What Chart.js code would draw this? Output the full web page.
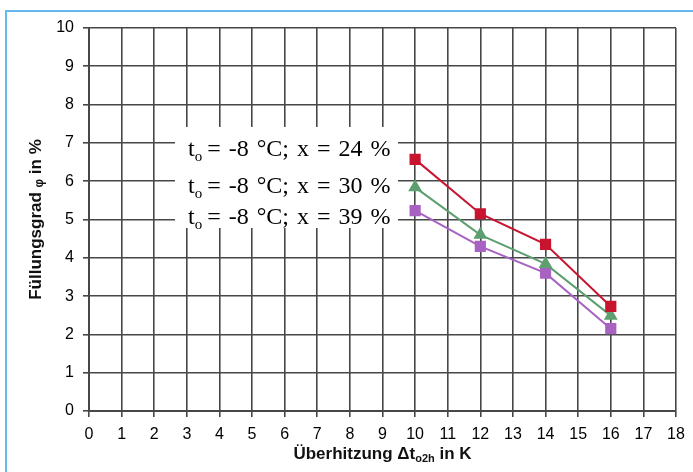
<!DOCTYPE html>
<html><head><meta charset="utf-8">
<script src="https://cdn.jsdelivr.net/npm/chart.js@4.4.0/dist/chart.umd.min.js"></script>
<style>
html,body{margin:0;padding:0;background:#fff;}
#wrap{position:relative;width:693px;height:472px;overflow:hidden;background:#fff;}
#frame{position:absolute;left:5px;top:10px;width:800px;height:600px;border-left:2px solid #66b9ec;border-top:2px solid #66b9ec;}
canvas{position:absolute;left:0;top:0;}
</style></head><body>
<div id="wrap"><div id="frame"></div><canvas id="c" width="693" height="472"></canvas></div>
<script>
// ---- data ----
const xValues = [10, 12, 14, 16];
const seriesX24 = [6.57, 5.15, 4.35, 2.73];
const seriesX30 = [5.84, 4.60, 3.84, 2.49];
const seriesX39 = [5.23, 4.30, 3.60, 2.15];
const seriesLabels = ['= -8 °C; x = 24 %', '= -8 °C; x = 30 %', '= -8 °C; x = 39 %'];
const xTitleParts = ['Überhitzung Δt', 'o2h', ' in K'];
const yTitleParts = ['Füllungsgrad ', 'φ', ' in %'];

const pts = arr => arr.map((v, i) => ({x: xValues[i], y: v}));
const gridColor = '#474747';
const tickFont = {family: 'Liberation Sans, Arial, sans-serif', size: 16};

const annotPlugin = {
  id: 'annot',
  afterDatasetsDraw(chart) {
    const ctx = chart.ctx;
    ctx.save();
    // white label box over grid
    ctx.fillStyle = '#fff';
    ctx.fillRect(175, 127, 223, 101);
    const baselines = [156, 193, 224];
    ctx.fillStyle = '#000';
    const serif = s => s + 'px "Liberation Serif", "Times New Roman", serif';
    seriesLabels.forEach((t, i) => {
      let x = 188;
      const y = baselines[i];
      ctx.textBaseline = 'alphabetic';
      ctx.textAlign = 'left';
      ctx.font = serif(24);
      ctx.fillText('t', x, y);
      x += ctx.measureText('t').width;
      ctx.font = serif(15);
      ctx.fillText('o', x, y + 5);
      x += ctx.measureText('o').width + 5;
      ctx.font = serif(24);
      if ('wordSpacing' in ctx) ctx.wordSpacing = '2px';
      ctx.fillText(t, x, y);
      if ('wordSpacing' in ctx) ctx.wordSpacing = '0px';
    });
    // x title
    const bold = s => 'bold ' + s + 'px "Liberation Sans", Arial, sans-serif';
    const cx = (chart.chartArea.left + chart.chartArea.right) / 2;
    ctx.fillStyle = '#111';
    ctx.font = bold(17); const w1 = ctx.measureText(xTitleParts[0]).width;
    ctx.font = bold(11); const w2 = ctx.measureText(xTitleParts[1]).width;
    ctx.font = bold(17); const w3 = ctx.measureText(xTitleParts[2]).width;
    let sx = cx - (w1 + w2 + w3) / 2;
    const by = 459;
    ctx.font = bold(17); ctx.fillText(xTitleParts[0], sx, by); sx += w1;
    ctx.font = bold(11); ctx.fillText(xTitleParts[1], sx, by + 3); sx += w2;
    ctx.font = bold(17); ctx.fillText(xTitleParts[2], sx, by);
    // y title (rotated)
    const cy = (chart.chartArea.top + chart.chartArea.bottom) / 2;
    ctx.translate(41, cy);
    ctx.rotate(-Math.PI / 2);
    ctx.font = bold(17); const v1 = ctx.measureText(yTitleParts[0]).width;
    ctx.font = bold(12); const v2 = ctx.measureText(yTitleParts[1]).width;
    ctx.font = bold(17); const v3 = ctx.measureText(yTitleParts[2]).width;
    let sy = -(v1 + v2 + v3) / 2;
    ctx.font = bold(17); ctx.fillText(yTitleParts[0], sy, 0); sy += v1;
    ctx.font = bold(12); ctx.fillText(yTitleParts[1], sy, 2); sy += v2;
    ctx.font = bold(17); ctx.fillText(yTitleParts[2], sy, 0);
    ctx.restore();
  }
};

new Chart(document.getElementById('c'), {
  type: 'line',
  data: {
    datasets: [
      {label: 'x = 24 %', data: pts(seriesX24), borderColor: '#c8142f', backgroundColor: '#c8142f',
       borderWidth: 2, pointStyle: 'rect', pointRadius: 6.5, tension: 0},
      {label: 'x = 30 %', data: pts(seriesX30), borderColor: '#5e9f70', backgroundColor: '#5e9f70',
       borderWidth: 2, pointStyle: 'triangle', pointRadius: 6, tension: 0},
      {label: 'x = 39 %', data: pts(seriesX39), borderColor: '#a862c2', backgroundColor: '#a862c2',
       borderWidth: 2, pointStyle: 'rect', pointRadius: 6.5, tension: 0}
    ]
  },
  options: {
    responsive: false,
    animation: false,
    layout: {padding: {top: 28, right: 17, left: 0, bottom: 0}},
    plugins: {legend: {display: false}, tooltip: {enabled: false}},
    scales: {
      x: {
        type: 'linear', min: 0, max: 18,
        ticks: {stepSize: 1, padding: 8, color: '#000', font: tickFont, maxRotation: 0},
        grid: {color: gridColor, lineWidth: 1.6, tickLength: 6},
        border: {color: gridColor, width: 2},
        afterFit: s => { s.height = 61; }
      },
      y: {
        type: 'linear', min: 0, max: 10,
        ticks: {stepSize: 1, padding: 9, color: '#000', font: tickFont},
        grid: {color: gridColor, lineWidth: 1.6, tickLength: 6},
        border: {color: gridColor, width: 2},
        afterFit: s => { s.width = 89; }
      }
    }
  },
  plugins: [annotPlugin]
});
</script>
</body></html>
